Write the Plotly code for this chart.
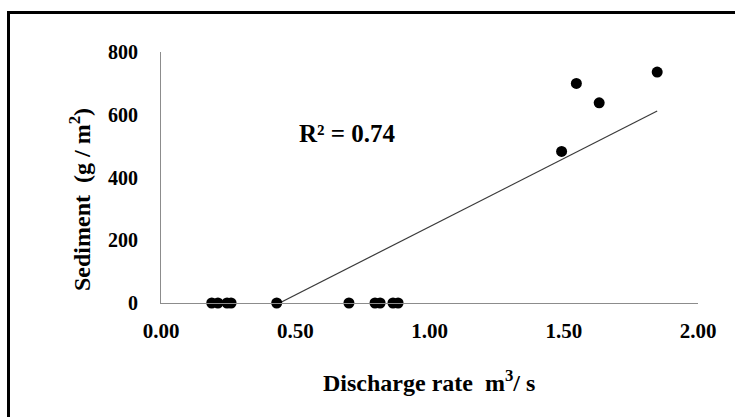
import numpy as np
import plotly.graph_objects as go

# Observations: discharge rate (m3/s) and sediment load (g/m2)
discharge = [0.189, 0.212, 0.246, 0.261, 0.431, 0.700, 0.797, 0.816, 0.864, 0.883,
             1.492, 1.547, 1.632, 1.848]
sediment = [0, 0, 0, 0, 0, 0, 0, 0, 0, 0,
            483, 700, 638, 736]

# Linear trend (y = a*x + b) and its coefficient of determination
trend_slope = 435.0
trend_intercept = -192.0
r_squared = 0.74

x_ticks = [0.0, 0.5, 1.0, 1.5, 2.0]
y_ticks = [0, 200, 400, 600, 800]

# Trend drawn from where it crosses zero up to the largest discharge
trend_x = np.array([-trend_intercept / trend_slope, max(discharge)])
trend_y = trend_slope * trend_x + trend_intercept

FONT = "Times New Roman, Liberation Serif, DejaVu Serif, serif"
W, H = 736, 417
L, R, T, B = 161, 38, 52, 114
PW, PH = W - L - R, H - T - B


def px_x(px):
    return (px - L) / PW


def px_y(py):
    return (H - B - py) / PH


fig = go.Figure()
fig.add_trace(go.Scatter(x=trend_x, y=trend_y, mode="lines",
                         line=dict(color="#3a3a3a", width=1.2),
                         showlegend=False, hoverinfo="skip"))
fig.add_trace(go.Scatter(x=discharge, y=sediment, mode="markers",
                         marker=dict(color="black", size=11),
                         showlegend=False, cliponaxis=False))

fig.update_xaxes(range=[0, 2], tickvals=x_ticks,
                 ticktext=[f"<b>{v:.2f}</b>" for v in x_ticks],
                 showgrid=False, zeroline=False, showline=True,
                 linecolor="#8c8c8c", linewidth=1, ticks="",
                 ticklabelstandoff=9,
                 tickfont=dict(family=FONT, size=21, color="black"))
fig.update_yaxes(range=[0, 800], tickvals=y_ticks,
                 ticktext=[f"<b>{v}</b>" for v in y_ticks],
                 showgrid=False, zeroline=False, showline=True,
                 linecolor="#8c8c8c", linewidth=1, ticks="",
                 ticklabelstandoff=18,
                 tickfont=dict(family=FONT, size=20, color="black"))

title_font = dict(family=FONT, size=24, color="black")
fig.add_annotation(text="<b>Discharge rate  m<sup>3</sup>/ s</b>", xref="paper", yref="paper",
                   x=px_x(429), y=px_y(381), showarrow=False, font=title_font,
                   xanchor="center", yanchor="middle")
fig.add_annotation(text="<b>Sediment  (g / m<sup>2</sup>)</b>", xref="paper", yref="paper",
                   x=px_x(80), y=px_y(200), showarrow=False, font=title_font,
                   textangle=-90, xanchor="center", yanchor="middle")
fig.add_annotation(text=f"<b>R² = {r_squared:.2f}</b>", xref="paper", yref="paper",
                   x=px_x(347), y=px_y(133), showarrow=False,
                   font=dict(family=FONT, size=25, color="black"),
                   xanchor="center", yanchor="middle")

# Frame around the chart: left and top edges (the others fall outside the page)
fx0, fx1 = px_x(8.5), px_x(735)
fy0, fy1 = px_y(425), px_y(12.5)
fig.add_shape(type="path", xref="paper", yref="paper",
              path=f"M {fx0} {fy0} L {fx0} {fy1} L {fx1} {fy1}",
              line=dict(color="black", width=3), layer="above")

fig.update_layout(width=W, height=H,
                  margin=dict(l=L, r=R, t=T, b=B),
                  paper_bgcolor="white", plot_bgcolor="white")

fig.write_html("out.html")
